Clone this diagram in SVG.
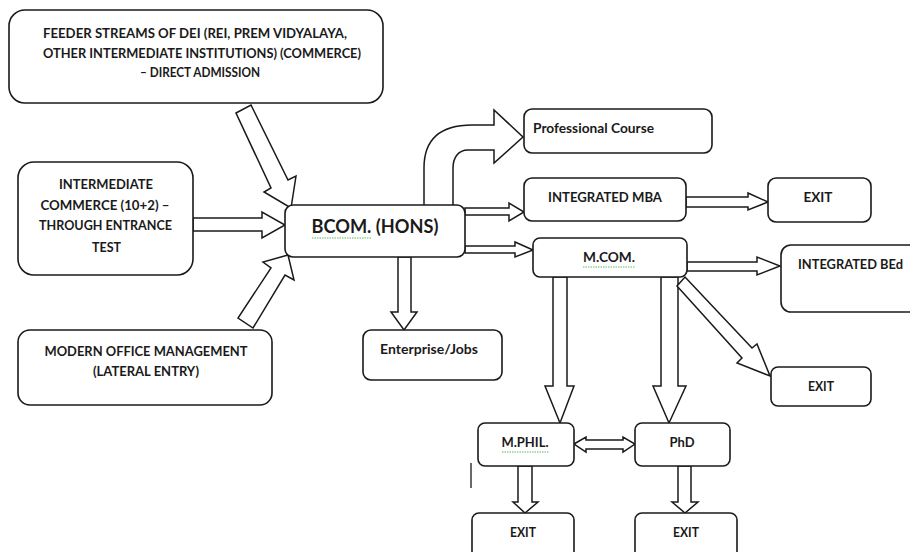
<svg xmlns="http://www.w3.org/2000/svg" width="910" height="552" viewBox="0 0 910 552">
<style>
.box{fill:#fff;stroke:#1a1a1a;stroke-width:1.6}
.arr{fill:#fff;stroke:#1a1a1a;stroke-width:1.5;stroke-linejoin:miter}
text{font-family:Lato,"Liberation Sans",Arial,sans-serif;font-weight:bold;font-size:14px;fill:#1a1a1a}
.c{text-anchor:middle}
.sq{stroke:#5cb85c;stroke-width:1;stroke-dasharray:1.5 1;fill:none}
</style>
<rect width="910" height="552" fill="#fff"/>
<g id="connectors">
<polygon class="arr" points="236,113 251,105 288,180 296,176 291,208 264,192 271,188"/>
<polygon class="arr" points="193,218 262,218 262,212 285,225 262,238 262,231 193,231"/>
<polygon class="arr" points="288,255 263,262 271,268 238,318 253,328 285,275 294,280"/>
<polygon class="arr" points="398,257 398,312 391,312 404,330 417,312 411,312 411,257"/>
<path class="arr" d="M424,205 L424,168 C424,138 442,125 472,125 L494,125 L494,110 L523,137 L494,163 L494,150 L468,150 C458,150 453,158 453,168 L453,205"/>
<polygon class="arr" points="465,208 509,208 509,203 524,212 509,221 509,215 465,215"/>
<polygon class="arr" points="465,246 515,246 515,242 533,250 515,257 515,253 465,253"/>
<polygon class="arr" points="686,197 748,197 748,193 768,202 748,210 748,207 686,207"/>
<polygon class="arr" points="687,262 757,262 757,257 780,266 757,275 757,271 687,271"/>
<polygon class="arr" points="553,277 553,386 545,386 560,423 574,386 567,386 567,277"/>
<polygon class="arr" points="661,277 661,386 653,386 669,423 686,386 678,386 678,277"/>
<polygon class="arr" points="685,277 752,348 757,344 770,376 737,363 742,358 677,286"/>
<polygon class="arr" points="574,444 586,437 586,440 623,440 623,437 635,444 623,452 623,449 586,449 586,452"/>
<polygon class="arr" points="518,466 518,502 513,502 525,513 538,502 532,502 532,466"/>
<polygon class="arr" points="678,466 678,502 672,502 685,513 698,502 691,502 691,466"/>
</g>
<g id="feeder">
<rect class="box" x="9" y="10" width="374" height="93" rx="16"/>
<text class="c" x="195" y="38" textLength="304" lengthAdjust="spacingAndGlyphs">FEEDER STREAMS OF DEI (REI, PREM VIDYALAYA,</text>
<text class="c" x="202" y="58" textLength="318" lengthAdjust="spacingAndGlyphs">OTHER INTERMEDIATE INSTITUTIONS) (COMMERCE)</text>
<text class="c" x="200" y="77" textLength="120" lengthAdjust="spacingAndGlyphs">– DIRECT ADMISSION</text>
</g>
<g id="intermediate">
<rect class="box" x="18" y="162" width="175" height="113" rx="16"/>
<text class="c" x="106" y="189" textLength="94" lengthAdjust="spacingAndGlyphs">INTERMEDIATE</text>
<text class="c" x="105" y="210" textLength="129" lengthAdjust="spacingAndGlyphs">COMMERCE (10+2) –</text>
<text class="c" x="105.5" y="230" textLength="133" lengthAdjust="spacingAndGlyphs">THROUGH ENTRANCE</text>
<text class="c" x="106.5" y="252" textLength="29" lengthAdjust="spacingAndGlyphs">TEST</text>
</g>
<g id="bcom">
<rect class="box" x="285" y="205" width="180" height="52" rx="8"/>
<text class="c" x="375" y="233" style="font-size:19px" textLength="127" lengthAdjust="spacingAndGlyphs">BCOM. (HONS)</text>
<path class="sq" d="M312,238 L372,238"/>
</g>
<g id="mom">
<rect class="box" x="18" y="330" width="254" height="75" rx="12"/>
<text class="c" x="146" y="356" textLength="203" lengthAdjust="spacingAndGlyphs">MODERN OFFICE MANAGEMENT</text>
<text class="c" x="146" y="376" textLength="106" lengthAdjust="spacingAndGlyphs">(LATERAL ENTRY)</text>
</g>
<g id="enterprise">
<rect class="box" x="363" y="330" width="139" height="50" rx="8"/>
<text class="c" x="429" y="354" textLength="98" lengthAdjust="spacingAndGlyphs">Enterprise/Jobs</text>
</g>
<g id="professional">
<rect class="box" x="524" y="109" width="188" height="44" rx="8"/>
<text x="533" y="133" textLength="121" lengthAdjust="spacingAndGlyphs">Professional Course</text>
</g>
<g id="mba">
<rect class="box" x="524" y="178" width="162" height="43" rx="8"/>
<text class="c" x="605" y="202" textLength="114" lengthAdjust="spacingAndGlyphs">INTEGRATED MBA</text>
</g>
<g id="exit-mba">
<rect class="box" x="768" y="178" width="103" height="44" rx="8"/>
<text class="c" x="818" y="202" textLength="29" lengthAdjust="spacingAndGlyphs">EXIT</text>
</g>
<g id="mcom">
<rect class="box" x="533" y="238" width="154" height="39" rx="7"/>
<text class="c" x="609" y="262" textLength="52" lengthAdjust="spacingAndGlyphs">M.COM.</text>
<path class="sq" d="M583,267 L635,267"/>
</g>
<g id="bed">
<rect class="box" x="781" y="245" width="150" height="67" rx="10"/>
<text x="798" y="269" textLength="105" lengthAdjust="spacingAndGlyphs">INTEGRATED BEd</text>
</g>
<g id="exit-mcom">
<rect class="box" x="771" y="367" width="100" height="39" rx="7"/>
<text class="c" x="821" y="391" textLength="26" lengthAdjust="spacingAndGlyphs">EXIT</text>
</g>
<g id="mphil">
<rect class="box" x="478" y="423" width="96" height="43" rx="7"/>
<text class="c" x="525" y="447" textLength="47" lengthAdjust="spacingAndGlyphs">M.PHIL.</text>
<path class="sq" d="M502,452 L549,452"/>
</g>
<g id="phd">
<rect class="box" x="635" y="423" width="95" height="43" rx="7"/>
<text class="c" x="682" y="447" textLength="25" lengthAdjust="spacingAndGlyphs">PhD</text>
</g>
<g id="exit-mphil">
<rect class="box" x="472" y="513" width="102" height="52" rx="7"/>
<text class="c" x="523" y="537" textLength="26" lengthAdjust="spacingAndGlyphs">EXIT</text>
</g>
<g id="exit-phd">
<rect class="box" x="635" y="513" width="102" height="52" rx="7"/>
<text class="c" x="686" y="537" textLength="26" lengthAdjust="spacingAndGlyphs">EXIT</text>
</g>
<line x1="471" y1="463" x2="471" y2="488" stroke="#1a1a1a" stroke-width="1.3"/>
</svg>
